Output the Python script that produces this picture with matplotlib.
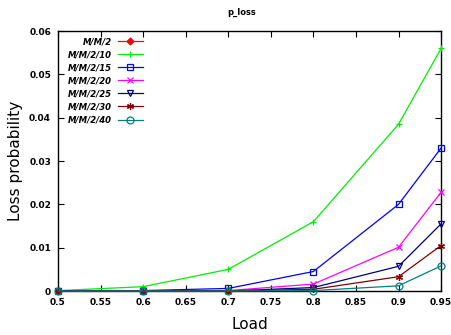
import numpy as np
import matplotlib
matplotlib.use('Agg')
import matplotlib.pyplot as plt

load = [0.5, 0.6, 0.7, 0.8, 0.9, 0.95]

labels = ['M/M/2', 'M/M/2/10', 'M/M/2/15', 'M/M/2/20', 'M/M/2/25', 'M/M/2/30', 'M/M/2/40']
# M/M/2 has no visible points in the chart, only a legend entry
p_mm2 = [np.nan] * 6
p_10 = [0.0001, 0.001, 0.005, 0.016, 0.0385, 0.056]
p_15 = [0, 0.0001, 0.0006, 0.0045, 0.020, 0.033]
p_20 = [0, 0, 0.0001, 0.0016, 0.0101, 0.0228]
p_25 = [0, 0, 0, 0.0008, 0.0057, 0.0155]
p_30 = [0, 0, 0, 0.0004, 0.0033, 0.0105]
p_40 = [0, 0, 0, 0.0001, 0.0012, 0.0058]

series = [p_mm2, p_10, p_15, p_20, p_25, p_30, p_40]
colors = ['#ff0000', '#00ee00', '#0000ff', '#ff00ff', '#000080', '#800000', '#008080']
markers = ['D', '+', 's', 'x', 'v', (6, 2, 0), 'o']
filled = [True, True, False, True, False, True, False]

fig = plt.figure(figsize=(4.51, 3.35), dpi=100)
ax = fig.add_axes([0.1286, 0.1313, 0.978 - 0.1286, 0.907 - 0.1313])

for vals, lab, c, m, f in zip(series, labels, colors, markers, filled):
    ax.plot(load, vals, color=c, marker=m, lw=0.9, ms=5 if m != 'D' else 3.5,
            mfc=c if f else 'none', mec=c, mew=0.9, label=lab, clip_on=False, zorder=3)

ax.set_xlim(0.5, 0.95)
ax.set_ylim(0, 0.06)
xt = np.arange(0.5, 0.951, 0.05)
ax.set_xticks(xt)
ax.set_xticklabels(['%g' % round(v, 2) for v in xt])
yt = np.arange(0, 0.0601, 0.01)
ax.set_yticks(yt)
ax.set_yticklabels(['%g' % round(v, 2) for v in yt])
ax.tick_params(direction='in', top=True, right=True, length=4, width=0.8,
               labelsize=6.5, pad=5)
for t in ax.get_xticklabels() + ax.get_yticklabels():
    t.set_fontweight('bold')
for s in ax.spines.values():
    s.set_linewidth(1.0)

ax.set_xlabel('Load', fontsize=11, labelpad=7)
ax.set_ylabel('Loss probability', fontsize=11, labelpad=4)
fig.text(0.535, 0.955, 'p_loss', fontsize=6, fontweight='bold', ha='center')

leg = ax.legend(loc='upper left', markerfirst=False, frameon=False,
                prop={'size': 6.1, 'weight': 'bold', 'style': 'italic'},
                handlelength=3.0, labelspacing=0.48, borderaxespad=0.3,
                bbox_to_anchor=(0.01, 1.0), handletextpad=0.7)
for t in leg.get_texts():
    t.set_ha('right')
leg._legend_box.align = 'right'

fig.savefig('out.png', dpi=100)
